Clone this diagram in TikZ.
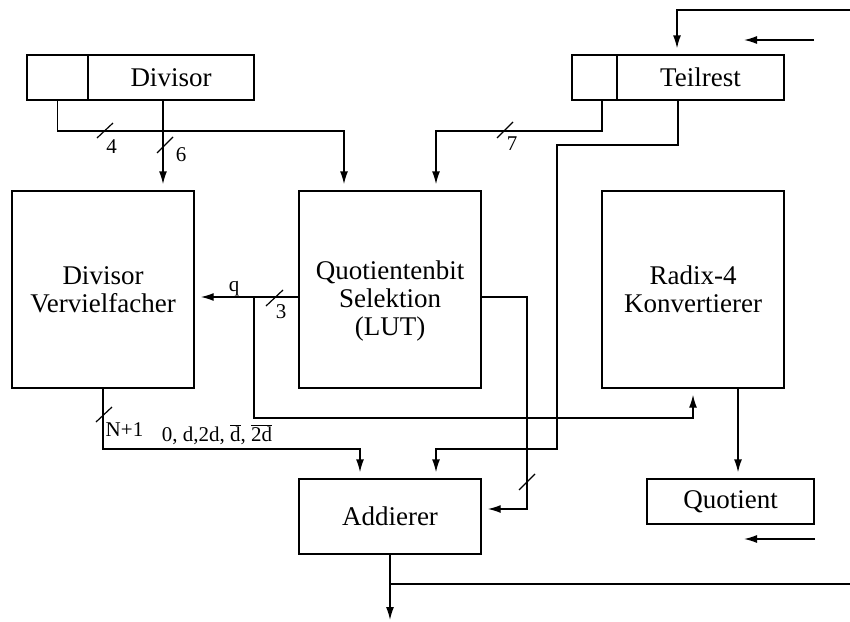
\documentclass[tikz,border=0pt]{standalone}
\usepackage{fontspec}
\setmainfont{Liberation Serif}
\usetikzlibrary{arrows.meta}
\newcommand\ovl[1]{\ensuremath{\overline{\hbox{#1}}}}

\begin{document}
\begin{tikzpicture}[x=1pt,y=-1pt,
  wire/.style={line width=1.4pt},
  arrnos/.style={wire,-{Latex[length=13pt,width=8pt]}},
  arr/.style={arrnos,shorten >=6pt},
  blk/.style={draw,line width=1.4pt,minimum width=182pt,minimum height=197pt,inner sep=0pt,
              font=\fontsize{27}{28}\selectfont,align=center},
  reg/.style={draw,line width=1.4pt,minimum height=45pt,inner sep=0pt,
              font=\fontsize{27}{28}\selectfont},
  txt/.style={inner sep=0pt,font=\fontsize{27}{28}\selectfont,align=center},
  lbl/.style={font=\fontsize{21}{22}\selectfont,inner sep=0pt},
  tick/.style={line width=1.2pt}]
\useasboundingbox (0,0) rectangle (850,621);

% registers
\node[reg,minimum width=61pt]  (divS) at (57.5,77.5) {};
\node[reg,minimum width=166pt] (divM) at (171,77.5) {Divisor};
\node[reg,minimum width=45pt]  (trS)  at (594.5,77.5) {};
\node[reg,minimum width=167pt] (trM)  at (700.5,77.5) {Teilrest};

% function blocks
\node[blk] (dv) at (103,289.5) {Divisor\\Vervielfacher};
\node[blk] (qs) at (390,289.5) {};
\node[txt] (qst) at (390,301) {Quotientenbit\\Selektion\\(LUT)};
\node[blk] (rk) at (693,289.5) {Radix-4\\Konvertierer};
\node[reg,minimum width=182pt,minimum height=75pt] (add) at (390,516.5) {Addierer};
\node[reg,minimum width=167pt] (quo) at (730.5,501.5) {Quotient};

% remainder feedback into the partial remainder register
\coordinate (fbA) at (850,10);
\coordinate (fbB) at (677,10);
\draw[arr] (fbA) -- (fbB) -- (fbB |- trM.north);
\coordinate (sa1) at (814,40);
\coordinate (sa2) at (744,40);
\draw[arrnos] (sa1) -- (sa2);

% divisor top bits to the LUT
\coordinate (d4) at (344,131);
\draw[arr] (divS.south) |- (d4) -- (d4 |- qs.north);
\draw[tick] (97,138) -- (113,123);
\node[lbl] (l4) at (111.5,147) {4};

% divisor to the multiplier
\coordinate (d6) at (163,0);
\draw[arr] (divM.south -| d6) -- (dv.north -| d6);
\draw[tick] (157,153) -- (173,137);
\node[lbl] (l6) at (181,155) {6};

% remainder top bits to the LUT
\coordinate (t7) at (602,0);
\coordinate (t7b) at (436,131);
\draw[arr] (trS.south -| t7) |- (t7b) -- (t7b |- qs.north);
\draw[tick] (497,138) -- (513,122);
\node[lbl] (l7) at (512,144) {7};

% remainder to the adder
\coordinate (ta) at (678,145);
\coordinate (tb) at (557,449);
\coordinate (tc) at (436,449);
\draw[arr] (trM.south -| ta) -- (ta) -| (tb) -- (tc) -- (tc |- add.north);

% multiples of the divisor to the adder
\coordinate (va) at (360,449);
\draw[arr] (dv.south) |- (va) -- (va |- add.north);
\draw[tick] (96,422) -- (112,407);
\node[lbl,anchor=base] (lN) at (124.5,436) {N+1};
\node[lbl,anchor=base] (lm) at (217,441) {0, d,2d, \ovl{d}, \ovl{2d}};

% quotient digit q
\coordinate (qy) at (0,297);
\draw[arr] (qs.west |- qy) -- (dv.east |- qy);
\coordinate (qb) at (254,297);
\coordinate (qc) at (693,418);
\draw[arr] (qb) |- (qc) -- (rk.south);
\node[lbl,anchor=base] (lq) at (234,291) {q};
\draw[tick] (266,306) -- (283,290);
\node[lbl] (l3) at (281,312) {3};

% sign / control to the adder
\coordinate (sa) at (527,297);
\coordinate (sb) at (527,509);
\draw[arr] (qs.east |- qy) -- (sa) -- (sb) -- (sb -| add.east);
\draw[tick] (519,490) -- (535,474);

% converter to the quotient register
\coordinate (rq) at (738,0);
\draw[arr] (rk.south -| rq) -- (quo.north -| rq);
\coordinate (qa1) at (815,539);
\coordinate (qa2) at (744,539);
\draw[arrnos] (qa1) -- (qa2);

% adder output
\coordinate (ao) at (390,620);
\draw[arrnos] (add.south) -- (ao);
\coordinate (aj) at (390,584);
\coordinate (ae) at (850,584);
\draw[wire] (aj) -- (ae);
\end{tikzpicture}
\end{document}
